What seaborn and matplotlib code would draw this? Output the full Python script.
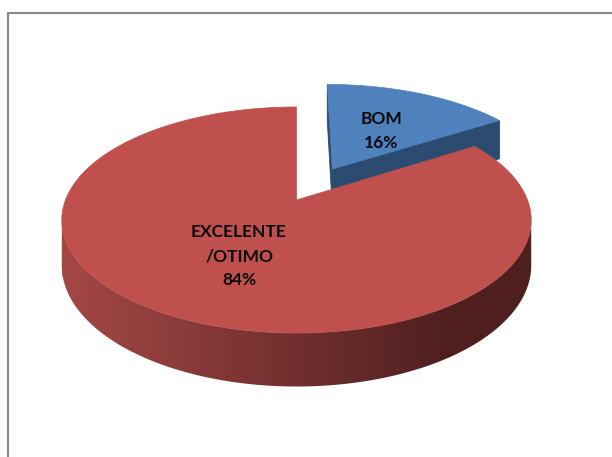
import numpy as np
import matplotlib
matplotlib.use("Agg")
import matplotlib.pyplot as plt
from matplotlib.patches import Polygon
import seaborn as sns

# Survey answers, in the order the slices run clockwise from 12 o'clock
categories = ["BOM", "EXCELENTE\n/OTIMO"]
values = [16, 84]
percent_labels = ["16%", "84%"]
explode = [0.34, 0.0]

top_colors = ["#4F81BD", "#C0504D"]
face_colors = ["#2C4B70", "#6B2A2A"]
side_cmaps = [
    sns.blend_palette(["#2C4B70", "#2C4B70"], as_cmap=True),
    sns.blend_palette(["#A44846", "#4F1F1F"], as_cmap=True),
]

sns.set_theme(style="white")
plt.rcParams["font.family"] = ["Lato", "DejaVu Sans"]

W, H = 612, 457
fig = plt.figure(figsize=(W / 100, H / 100), dpi=100)
ax = fig.add_axes([0, 0, 1, 1])
ax.set_xlim(0, W)
ax.set_ylim(H, 0)
ax.axis("off")

# projection of the disc: centre, radii, perspective strength, thickness
cx, cy = 296.5, 200.0
A, B = 231.0, 109.5
persp = 0.177
depth = 44.0
cam = np.array([0.0, -1.0 / persp])


def proj(u, v, low=0.0):
    s = 1.0 / (1.0 + persp * v)
    return cx + A * u * s, cy - B * v * s + depth * low * s


def facing(point, normal):
    return np.dot(cam - point, normal) > 1e-9


# horizontal shading ramp used on the curved wall
ramp = np.linspace(0, 1, 512)[None, :]
ramp_x0, ramp_x1 = 62.0, 450.0

total = float(sum(values))
start = 90.0
slices = []
for k, val in enumerate(values):
    sweep = 360.0 * val / total
    t1, t2 = start, start - sweep
    mid = np.radians((t1 + t2) / 2)
    off = explode[k] * np.array([np.cos(mid), np.sin(mid)])
    slices.append((k, t1, t2, off))
    start = t2

# far slices first
order = sorted(slices, key=lambda s: -s[3][1])

for k, t1, t2, off in order:
    ts = np.radians(np.linspace(t2, t1, 600))
    # radial walls
    for ang, sign in ((t1, +1), (t2, -1)):
        a = np.radians(ang)
        rim = off + np.array([np.cos(a), np.sin(a)])
        normal = np.array([np.cos(a + sign * np.pi / 2), np.sin(a + sign * np.pi / 2)])
        if facing(off + 0.5 * (rim - off), normal):
            pts = [proj(*off), proj(*rim), proj(*rim, 1), proj(*off, 1)]
            ax.add_patch(Polygon(pts, closed=True, fc=face_colors[k], ec=face_colors[k], lw=0.6))
    # curved outer wall: visible arc as one shape filled with the ramp
    vis = [t for t in ts if facing(off + np.array([np.cos(t), np.sin(t)]),
                                   np.array([np.cos(t), np.sin(t)]))]
    if len(vis) > 1:
        upper = [proj(off[0] + np.cos(t), off[1] + np.sin(t)) for t in vis]
        lower = [proj(off[0] + np.cos(t), off[1] + np.sin(t), 1) for t in vis[::-1]]
        wall = Polygon(upper + lower, closed=True, fc="none", ec="none")
        ax.add_patch(wall)
        ys = [p[1] for p in upper + lower]
        img = ax.imshow(ramp, cmap=side_cmaps[k], aspect="auto",
                        extent=(ramp_x0, ramp_x1, max(ys) + 2, min(ys) - 2),
                        interpolation="bilinear")
        # extend the ramp's end colours beyond its span
        left = ax.imshow(ramp[:, :1], cmap=side_cmaps[k], vmin=0, vmax=1, aspect="auto",
                         extent=(0, ramp_x0 + 1, max(ys) + 2, min(ys) - 2))
        right = ax.imshow(ramp[:, -1:], cmap=side_cmaps[k], vmin=0, vmax=1, aspect="auto",
                          extent=(ramp_x1 - 1, W, max(ys) + 2, min(ys) - 2))
        for im in (img, left, right):
            im.set_clip_path(wall)
    # top surface
    top = [proj(*off)] + [proj(off[0] + np.cos(t), off[1] + np.sin(t)) for t in ts]
    ax.add_patch(Polygon(top, closed=True, fc=top_colors[k], ec=top_colors[k], lw=0.5))

ax.set_xlim(0, W)
ax.set_ylim(H, 0)

# data labels
label_pos = {0: (381, 131), 1: (239, 256)}
for k, (cat, pct) in enumerate(zip(categories, percent_labels)):
    x, y = label_pos[k]
    ax.text(x, y, f"{cat}\n{pct}", ha="center", va="center", fontsize=12.5,
            fontweight="bold", color="#0A0A0A", linespacing=1.6)

# chart area frame
ax.plot([8, 8, W + 5], [H + 5, 13, 13], color="#888888", lw=1.5, solid_joinstyle="miter")

fig.savefig("out.png", dpi=100)
